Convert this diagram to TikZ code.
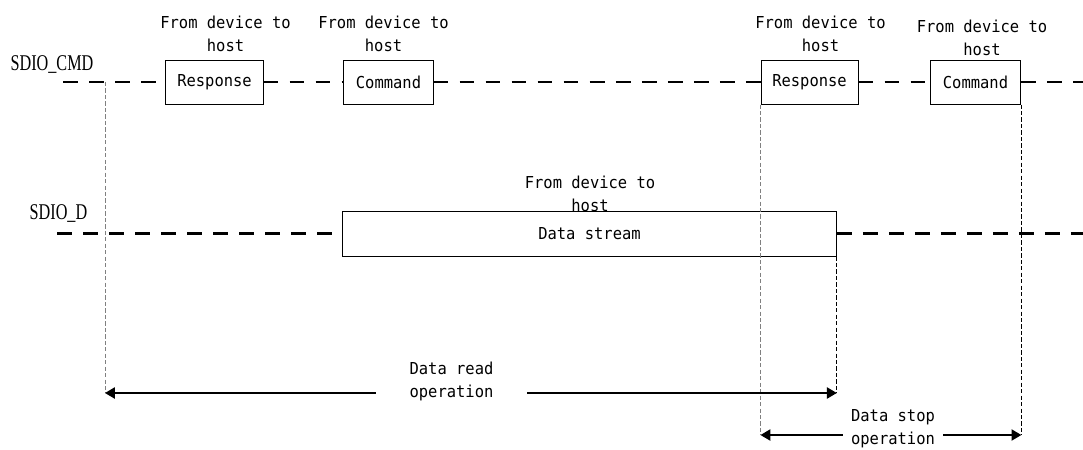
\documentclass[tikz,border=0pt]{standalone}
\usepackage{fontspec}
\setmainfont{DejaVu Sans Mono}[FakeStretch=0.94]
\newfontfamily\sigfont{Liberation Serif}[FakeStretch=0.72]
\usetikzlibrary{arrows.meta, positioning}
\tikzstyle{frame} = [rectangle, draw=black, line width=0.7pt, inner sep=0pt, minimum height=31.3pt]
\tikzstyle{siglabel} = [font=\sigfont\fontsize{16pt}{18pt}\selectfont, inner sep=0pt]
\tikzstyle{note} = [align=center, inner sep=0pt]
\tikzstyle{sigline} = [line width=1.6pt, dash pattern=on 10.5pt off 8pt]
\tikzstyle{guide} = [line width=0.6pt, dash pattern=on 3pt off 1.6pt]
\tikzstyle{arrow} = [line width=1pt, -{Triangle[length=7pt,width=8pt]}]

\begin{document}
\begin{tikzpicture}[x=0.025cm, y=-0.025cm, font=\fontsize{11.7pt}{16.4pt}\selectfont]
    \useasboundingbox (0,0) rectangle (1083,449);

    % signal names
    \node (cmdname) [siglabel] at (52,64) {SDIO\_CMD};
    \node (datname) [siglabel] at (58.5,213.5) {SDIO\_D};

    % command line boxes
    \node (resp1) [frame, minimum width=69pt] at (214.5,82) {Response};
    \node (cmd1) [frame, minimum width=63.5pt] at (388.5,82) {Command};
    \node (resp2) [frame, minimum width=69pt] at (809.5,82) {Response};
    \node (cmd2) [frame, minimum width=64.5pt] at (975.5,82) {Command};
    \node (datastr) [frame, minimum width=351pt, minimum height=32pt] at (589.5,233.5) {Data stream};

    % direction notes
    \node (dir1) [note] at (225.5,34) {From device to\\host};
    \node (dir2) [note] at (383.5,34) {From device to\\host};
    \node (dir3) [note] at (820.5,33.5) {From device to\\host};
    \node (dir4) [note] at (982,37.5) {From device to\\host};
    \node (dirdata) [note] at (590,194) {From device to\\host};

    % line ends
    \coordinate (cmdL) at (63,82);
    \coordinate (cmdR) at (1083,82);
    \coordinate (datL) at (57,233.5);
    \coordinate (datR) at (1083,233.5);

    \draw [sigline] (cmdL) -- (resp1);
    \draw [sigline] (resp1) -- (cmd1);
    \draw [sigline] (cmd1) -- (resp2);
    \draw [sigline] (resp2) -- (cmd2);
    \draw [sigline] (cmd2) -- (cmdR);
    \draw [sigline] (datL) -- (datastr);
    \draw [sigline] (datastr) -- (datR);

    % operation spans
    \coordinate (readtop) at (105,82);
    \coordinate (readL) at (105,393);
    \coordinate (readR) at (datastr.south east |- 0,393);
    \coordinate (stopL) at (resp2.south west |- 0,435);
    \coordinate (stopR) at (cmd2.south east |- 0,435);
    \node (readlbl) [note, minimum width=107.4pt] at (451.5,381.5) {Data read\\operation};
    \node (stoplbl) [note, minimum width=71pt] at (893,428.5) {Data stop\\operation};

    \draw [guide, gray] (readtop) -- (readL);
    \draw [guide] (datastr.south east) -- (readR);
    \draw [guide, gray] (resp2.south west) -- (stopL);
    \draw [guide] (cmd2.south east) -- (stopR);

    \draw [arrow] (readlbl.west |- readL) -- (readL);
    \draw [arrow] (readlbl.east |- readR) -- (readR);
    \draw [arrow] (stoplbl.west |- stopL) -- (stopL);
    \draw [arrow] (stoplbl.east |- stopR) -- (stopR);

\end{tikzpicture}
\end{document}
